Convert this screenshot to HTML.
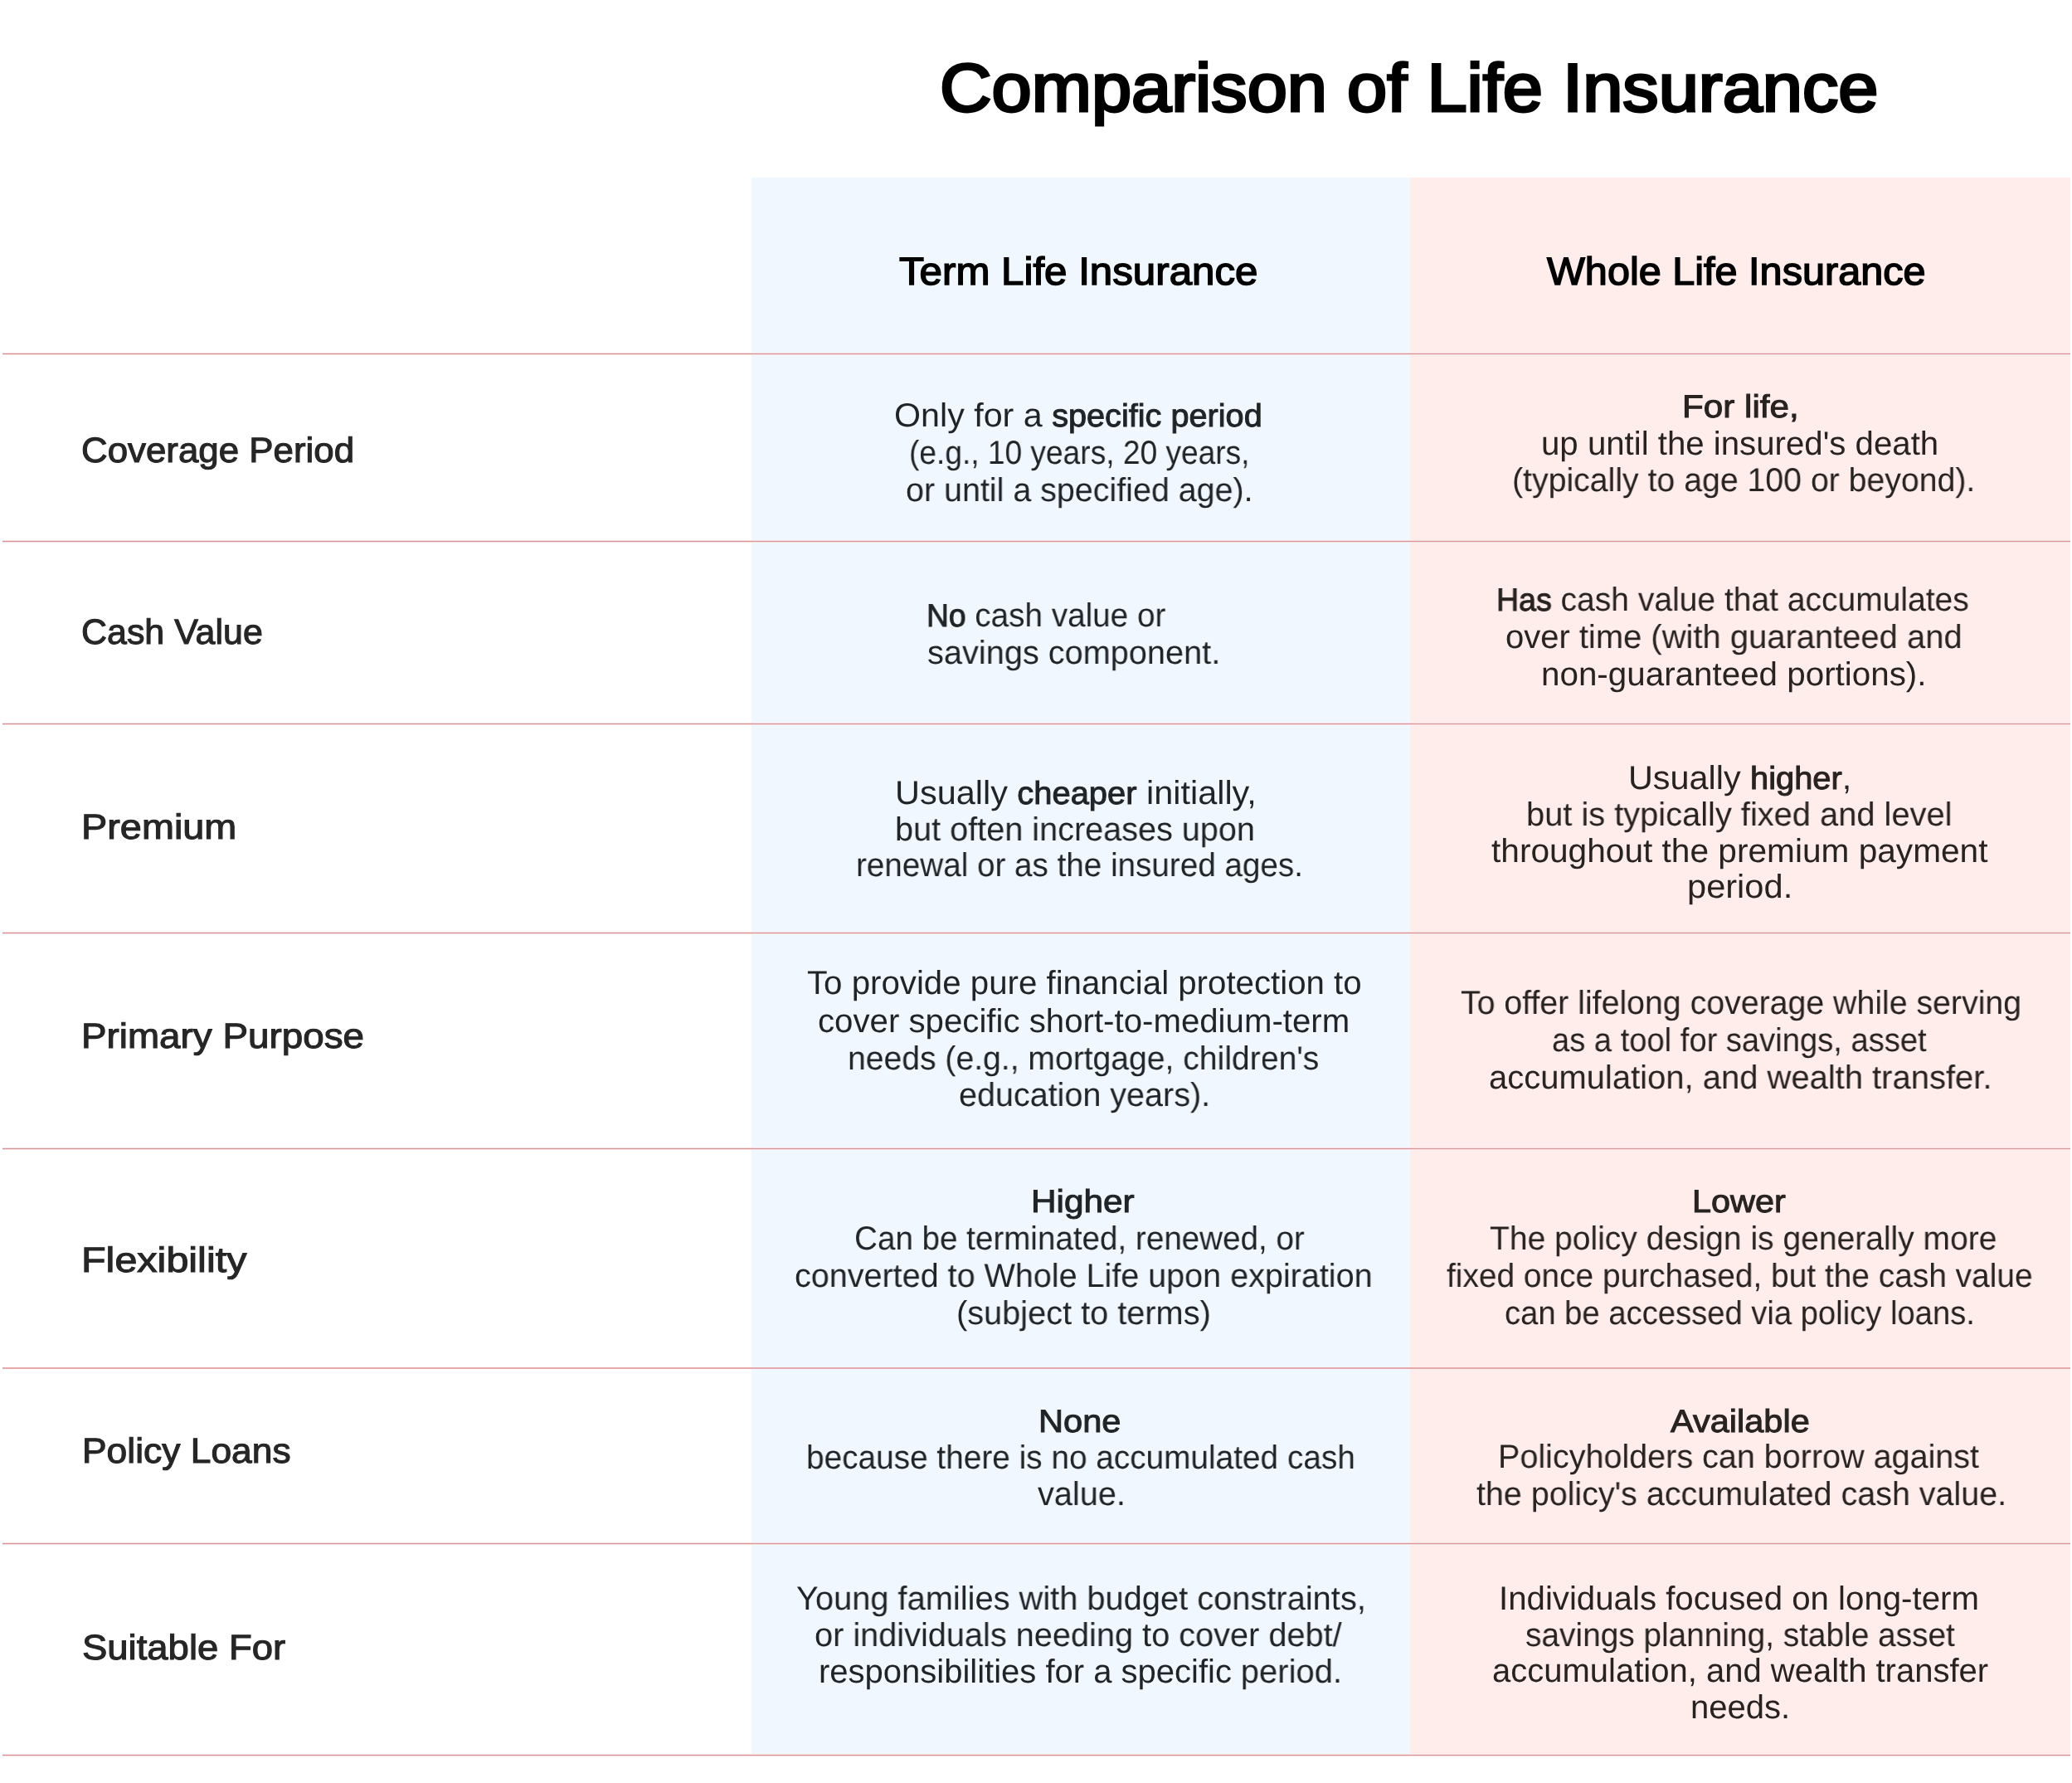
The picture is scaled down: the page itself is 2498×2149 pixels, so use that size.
<!DOCTYPE html>
<html lang="en">
<head>
<meta charset="utf-8">
<title>Comparison of Life Insurance</title>
<style>
html,body{margin:0;padding:0;}
body{width:2498px;height:2149px;position:relative;overflow:hidden;background:#ffffff;font-family:"Liberation Sans",sans-serif;}
.col{position:absolute;top:214px;height:1902px;}
.cb{left:906px;width:794px;background:#f0f7fe;}
.cp{left:1700px;width:796px;background:#ffedeb;}
.hl{position:absolute;left:3px;width:2493px;height:1px;background:#d49496;}
.hh{background:#f8dfe1;}
.t{position:absolute;white-space:pre;line-height:1;transform-origin:0 0;text-rendering:geometricPrecision;will-change:transform;}
.t b{font-weight:inherit;}
.t.title{font-size:81.9px;font-weight:normal;-webkit-text-stroke:3.2px currentColor;}
.t.head{font-size:46.9px;font-weight:normal;-webkit-text-stroke:1.5px currentColor;}
.t.label{font-size:42.4px;font-weight:normal;-webkit-text-stroke:1.1px currentColor;}
.t.body{font-size:40.0px;font-weight:normal;}
.t.body b{font-size:38.5px;font-weight:normal;-webkit-text-stroke:1.0px currentColor;}
.title{color:#000000;}
.head{color:#000000;}
.label{color:#262626;}
.bb{color:#1f2427;}
.bp{color:#29231f;}
</style>
</head>
<body>
<div class="col cb"></div>
<div class="col cp"></div>
<div class="hl hh" style="top:425px"></div><div class="hl" style="top:426px"></div><div class="hl hh" style="top:427px"></div>
<div class="hl hh" style="top:651px"></div><div class="hl" style="top:652px"></div><div class="hl hh" style="top:653px"></div>
<div class="hl hh" style="top:871px"></div><div class="hl" style="top:872px"></div><div class="hl hh" style="top:873px"></div>
<div class="hl hh" style="top:1123px"></div><div class="hl" style="top:1124px"></div><div class="hl hh" style="top:1125px"></div>
<div class="hl hh" style="top:1383px"></div><div class="hl" style="top:1384px"></div><div class="hl hh" style="top:1385px"></div>
<div class="hl" style="top:1648px;height:2px;background:#e6a9ab"></div>
<div class="hl hh" style="top:1859px"></div><div class="hl" style="top:1860px"></div><div class="hl hh" style="top:1861px"></div>
<div class="hl hh" style="top:2114px"></div><div class="hl" style="top:2115px"></div><div class="hl hh" style="top:2116px"></div>
<div class="t title" style="left:1132.50px;top:66.10px;transform:scaleX(1.0578)"><b>Comparison of Life Insurance</b></div>
<div class="t head" style="left:1084.47px;top:304.15px;transform:scaleX(1.0501)"><b>Term Life Insurance</b></div>
<div class="t head" style="left:1864.82px;top:304.25px;transform:scaleX(1.0364)"><b>Whole Life Insurance</b></div>
<div class="t label" style="left:98.41px;top:522.15px;transform:scaleX(1.0345)"><b>Coverage Period</b></div>
<div class="t label" style="left:98.27px;top:741.45px;transform:scaleX(1.0127)"><b>Cash Value</b></div>
<div class="t label" style="left:98.33px;top:976.45px;transform:scaleX(1.1049)"><b>Premium</b></div>
<div class="t label" style="left:98.42px;top:1228.45px;transform:scaleX(1.0803)"><b>Primary Purpose</b></div>
<div class="t label" style="left:98.20px;top:1498.05px;transform:scaleX(1.1439)"><b>Flexibility</b></div>
<div class="t label" style="left:98.53px;top:1728.45px;transform:scaleX(1.0472)"><b>Policy Loans</b></div>
<div class="t label" style="left:98.52px;top:1965.25px;transform:scaleX(1.0724)"><b>Suitable For</b></div>
<div class="t body bb" style="left:1078.42px;top:480.70px;transform:scaleX(1.0305)">Only for a <b>specific period</b></div>
<div class="t body bb" style="left:1096.15px;top:525.60px;transform:scaleX(0.9278)">(e.g., 10 years, 20 years,</div>
<div class="t body bb" style="left:1091.54px;top:570.50px;transform:scaleX(0.9856)">or until a specified age).</div>
<div class="t body bb" style="left:1117.42px;top:721.70px;transform:scaleX(0.9667)"><b>No</b> cash value or</div>
<div class="t body bb" style="left:1117.81px;top:766.80px;transform:scaleX(0.9929)">savings component.</div>
<div class="t body bb" style="left:1079.07px;top:935.70px;transform:scaleX(1.0358)">Usually <b>cheaper</b> initially,</div>
<div class="t body bb" style="left:1079.23px;top:979.60px;transform:scaleX(0.9907)">but often increases upon</div>
<div class="t body bb" style="left:1031.52px;top:1022.70px;transform:scaleX(0.9656)">renewal or as the insured ages.</div>
<div class="t body bb" style="left:972.69px;top:1165.40px;transform:scaleX(1.0057)">To provide pure financial protection to</div>
<div class="t body bb" style="left:986.19px;top:1210.60px;transform:scaleX(1.0051)">cover specific short-to-medium-term</div>
<div class="t body bb" style="left:1022.48px;top:1255.70px;transform:scaleX(0.9776)">needs (e.g., mortgage, children&#x27;s</div>
<div class="t body bb" style="left:1156.13px;top:1300.40px;transform:scaleX(0.9877)">education years).</div>
<div class="t body bb" style="left:1243.15px;top:1427.90px;transform:scaleX(1.0991)"><b>Higher</b></div>
<div class="t body bb" style="left:1029.69px;top:1472.60px;transform:scaleX(0.9648)">Can be terminated, renewed, or</div>
<div class="t body bb" style="left:958.23px;top:1517.80px;transform:scaleX(0.9881)">converted to Whole Life upon expiration</div>
<div class="t body bb" style="left:1152.53px;top:1562.70px;transform:scaleX(0.9927)">(subject to terms)</div>
<div class="t body bb" style="left:1252.22px;top:1692.90px;transform:scaleX(1.0805)"><b>None</b></div>
<div class="t body bb" style="left:972.31px;top:1736.60px;transform:scaleX(0.9694)">because there is no accumulated cash</div>
<div class="t body bb" style="left:1250.90px;top:1780.60px;transform:scaleX(0.9912)">value.</div>
<div class="t body bb" style="left:959.61px;top:1906.90px;transform:scaleX(0.9953)">Young families with budget constraints,</div>
<div class="t body bb" style="left:982.12px;top:1950.60px;transform:scaleX(0.9925)">or individuals needing to cover debt/</div>
<div class="t body bb" style="left:987.20px;top:1994.50px;transform:scaleX(0.9994)">responsibilities for a specific period.</div>
<div class="t body bp" style="left:2027.86px;top:469.80px;transform:scaleX(1.0959)"><b>For life,</b></div>
<div class="t body bp" style="left:1857.88px;top:514.50px;transform:scaleX(1.0049)">up until the insured&#x27;s death</div>
<div class="t body bp" style="left:1822.57px;top:559.40px;transform:scaleX(0.9809)">(typically to age 100 or beyond).</div>
<div class="t body bp" style="left:1804.39px;top:702.90px;transform:scaleX(0.9751)"><b>Has</b> cash value that accumulates</div>
<div class="t body bp" style="left:1814.50px;top:747.90px;transform:scaleX(0.9985)">over time (with guaranteed and</div>
<div class="t body bp" style="left:1858.37px;top:792.50px;transform:scaleX(1.0091)">non-guaranteed portions).</div>
<div class="t body bp" style="left:1962.68px;top:917.80px;transform:scaleX(1.0340)">Usually <b>higher</b>,</div>
<div class="t body bp" style="left:1839.82px;top:961.60px;transform:scaleX(0.9953)">but is typically fixed and level</div>
<div class="t body bp" style="left:1798.48px;top:1005.90px;transform:scaleX(1.0157)">throughout the premium payment</div>
<div class="t body bp" style="left:2034.26px;top:1049.30px;transform:scaleX(1.0400)">period.</div>
<div class="t body bp" style="left:1761.13px;top:1188.70px;transform:scaleX(0.9819)">To offer lifelong coverage while serving</div>
<div class="t body bp" style="left:1871.42px;top:1233.60px;transform:scaleX(0.9536)">as a tool for savings, asset</div>
<div class="t body bp" style="left:1794.80px;top:1278.60px;transform:scaleX(0.9990)">accumulation, and wealth transfer.</div>
<div class="t body bp" style="left:2039.74px;top:1428.10px;transform:scaleX(1.0752)"><b>Lower</b></div>
<div class="t body bp" style="left:1796.34px;top:1473.10px;transform:scaleX(0.9751)">The policy design is generally more</div>
<div class="t body bp" style="left:1744.24px;top:1517.60px;transform:scaleX(0.9716)">fixed once purchased, but the cash value</div>
<div class="t body bp" style="left:1813.71px;top:1562.90px;transform:scaleX(0.9549)">can be accessed via policy loans.</div>
<div class="t body bp" style="left:2013.96px;top:1692.70px;transform:scaleX(1.0784)"><b>Available</b></div>
<div class="t body bp" style="left:1806.04px;top:1736.30px;transform:scaleX(0.9882)">Policyholders can borrow against</div>
<div class="t body bp" style="left:1779.52px;top:1780.60px;transform:scaleX(0.9861)">the policy&#x27;s accumulated cash value.</div>
<div class="t body bp" style="left:1807.38px;top:1906.50px;transform:scaleX(1.0053)">Individuals focused on long-term</div>
<div class="t body bp" style="left:1838.94px;top:1950.80px;transform:scaleX(0.9704)">savings planning, stable asset</div>
<div class="t body bp" style="left:1798.50px;top:1994.30px;transform:scaleX(1.0000)">accumulation, and wealth transfer</div>
<div class="t body bp" style="left:2038.11px;top:2037.70px;transform:scaleX(0.9964)">needs.</div>
</body>
</html>
